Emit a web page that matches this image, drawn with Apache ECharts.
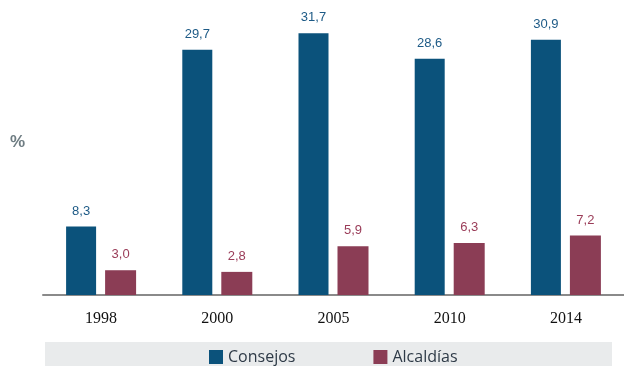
<!DOCTYPE html>
<html>
<head>
<meta charset="utf-8">
<script src="https://cdn.jsdelivr.net/npm/echarts@6/dist/echarts.min.js"></script>
<style>
  html, body { margin: 0; padding: 0; background: #ffffff; }
  #chart { width: 624px; height: 366px; }
</style>
</head>
<body>
<div id="chart"></div>
<script>
// Representation by election year (%)
const years = ['1998', '2000', '2005', '2010', '2014'];
const consejos = [8.3, 29.7, 31.7, 28.6, 30.9];
const alcaldias = [3.0, 2.8, 5.9, 6.3, 7.2];

const BLUE = '#0b527b';
const MAROON = '#8b3d55';

const fmt = p => p.value.toFixed(1).replace('.', ',');

const chart = echarts.init(document.getElementById('chart'), null, { renderer: 'canvas' });
chart.setOption({
  animation: false,
  backgroundColor: '#ffffff',
  graphic: [
    {
      type: 'rect', left: 45, top: 342, z: -10,
      shape: { width: 567, height: 30 },
      style: { fill: '#e9ebec' }
    },
    {
      type: 'text', left: 10, top: 134,
      style: { text: '%', fill: '#6e7c82', font: 'bold 17px "Liberation Sans", Arial, sans-serif' }
    }
  ],
  legend: {
    left: 209, top: 349, padding: 0,
    itemWidth: 14, itemHeight: 14, itemGap: 78,
    icon: 'rect',
    textStyle: { color: '#2e3a47', fontSize: 16, fontFamily: '"Open Sans", sans-serif' },
    data: ['Consejos', 'Alcaldías']
  },
  grid: { left: 43, right: 0, top: 6, bottom: 71 },
  xAxis: {
    type: 'category',
    data: years,
    axisLine: { lineStyle: { color: '#8a8a8a', width: 2 } },
    axisTick: { show: false },
    axisLabel: { color: '#111', fontSize: 16, fontFamily: '"Liberation Serif", serif', margin: 16 }
  },
  yAxis: {
    type: 'value', min: 0, max: 35,
    show: false,
    splitLine: { show: false }
  },
  series: [
    {
      name: 'Consejos', type: 'bar', data: consejos,
      barWidth: 30, barGap: '30%',
      itemStyle: { color: BLUE },
      label: { show: true, position: 'top', distance: 9, color: '#1d5a86', fontSize: 13, fontFamily: '"Liberation Sans", Arial, sans-serif', formatter: fmt }
    },
    {
      name: 'Alcaldías', type: 'bar', data: alcaldias,
      barWidth: 31,
      itemStyle: { color: MAROON },
      label: { show: true, position: 'top', distance: 9, color: '#9a3c58', fontSize: 13, fontFamily: '"Liberation Sans", Arial, sans-serif', formatter: fmt }
    }
  ]
});
</script>
</body>
</html>
